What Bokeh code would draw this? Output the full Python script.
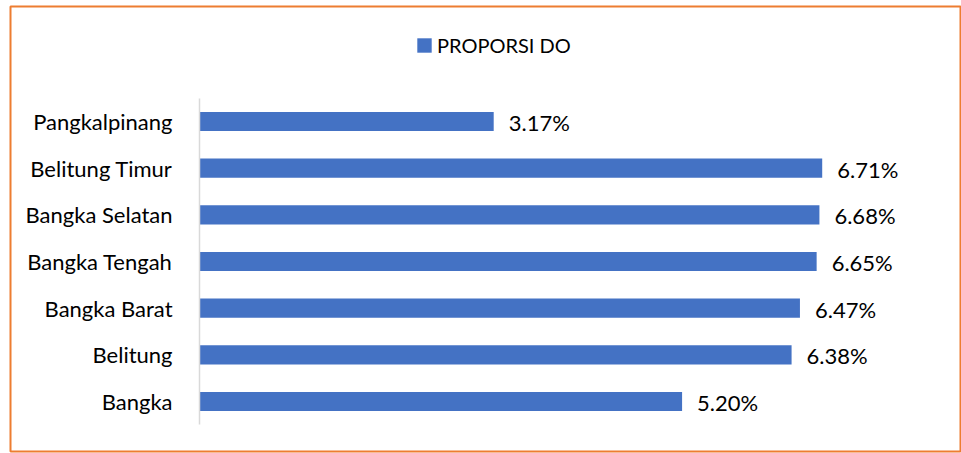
from bokeh.plotting import figure
from bokeh.models import Range1d, FixedTicker, ColumnDataSource, Legend, LegendItem, LabelSet
from bokeh.core.properties import value
from bokeh.embed import file_html
from bokeh.resources import INLINE

categories = ["Bangka", "Belitung", "Bangka Barat", "Bangka Tengah",
              "Bangka Selatan", "Belitung Timur", "Pangkalpinang"]
values = [5.20, 6.38, 6.47, 6.65, 6.68, 6.71, 3.17]
series_name = "PROPORSI DO"

FONT = "Lato"
FS = "22px"
BAR = "#4472C4"

pos = list(range(len(categories)))
src = ColumnDataSource(dict(y=pos, v=values, lbl=["%.2f%%" % v for v in values]))

p = figure(width=961, height=453, output_backend="svg", toolbar_location=None,
           x_range=Range1d(-2.037, 8.211), y_range=Range1d(-1.071, 8.464),
           min_border_left=10, min_border_right=0, min_border_top=6, min_border_bottom=2,
           x_axis_location=None)
p.outline_line_color = "#ED7D31"
p.outline_line_width = 2
p.xgrid.visible = False
p.ygrid.visible = False
p.background_fill_color = "white"
p.border_fill_color = "white"

r = p.hbar(y="y", right="v", left=0, height=0.41, source=src, color=BAR, line_color=None)

ax = p.yaxis[0]
ax.fixed_location = 0
ax.ticker = FixedTicker(ticks=pos)
ax.major_label_overrides = {i: c for i, c in enumerate(categories)}
ax.bounds = (-0.5, 6.5)
ax.axis_line_color = "#D9D9D9"
ax.axis_line_width = 1.5
ax.major_tick_line_color = None
ax.major_tick_out = 0
ax.major_tick_in = 0
ax.minor_tick_line_color = None
ax.minor_tick_out = 0
ax.major_label_standoff = 27
ax.major_label_text_font = FONT
ax.major_label_text_font_size = FS
ax.major_label_text_color = "#000000"

labels = LabelSet(x="v", y="y", text="lbl", source=src, x_offset=15, y_offset=-1,
                  text_baseline="middle", text_align="left",
                  text_font=value(FONT), text_font_size=value(FS), text_color="#000000")
p.add_layout(labels)

legend = Legend(items=[LegendItem(label=series_name, renderers=[r])],
                location=(405, 394), orientation="horizontal",
                glyph_width=18, glyph_height=18, label_standoff=4,
                padding=0, margin=0, spacing=0,
                border_line_color=None, background_fill_alpha=0,
                label_text_font=FONT, label_text_font_size="20px", label_text_color="#000000")
p.add_layout(legend, "center")

open("out.html", "w").write(file_html(p, INLINE))
